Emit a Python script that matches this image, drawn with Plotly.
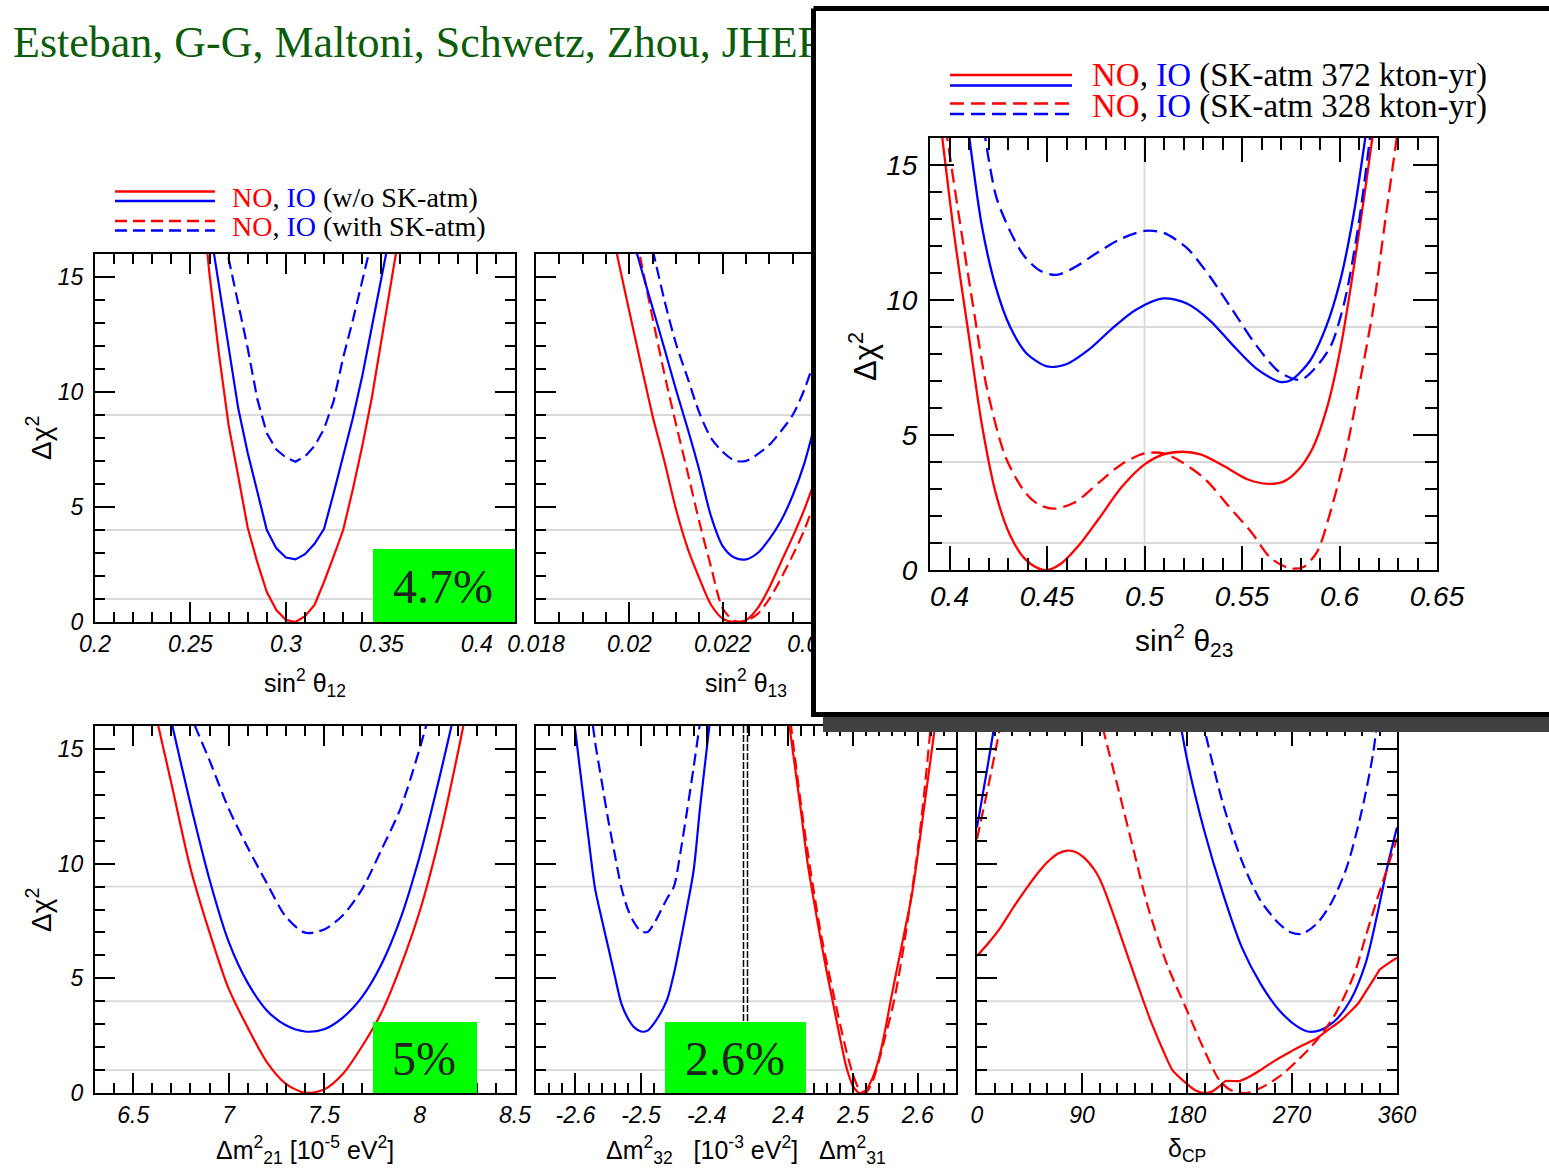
import plotly.graph_objects as go

W, H = 1549, 1170
RED, BLUE = "#ff0000", "#0000ff"
SERIF, SANS = "Liberation Serif", "Liberation Sans"
GRID = "#d9d9d9"
CHI_RANGE = [0, 16]
CL_LEVELS = [1, 4, 9]

# ---------------- sin^2(theta12) ----------------
s12 = [0.255, 0.260, 0.265, 0.270, 0.275, 0.280, 0.285, 0.290, 0.295, 0.300, 0.305,
       0.310, 0.315, 0.320, 0.325, 0.330, 0.335, 0.340, 0.345, 0.350, 0.355, 0.360]
chi_s12_no = [19.3, 15.1, 11.6, 8.55, 6.35, 4.1, 2.6, 1.3, 0.52, 0.09, 0.0,
              0.25, 0.74, 1.75, 2.85, 4.0, 5.75, 7.65, 9.75, 12.2, 14.6, 17.2]
chi_s12_io = [19.9, 17.3, 14.7, 11.95, 9.3, 7.35, 5.65, 4.0, 3.2, 2.8, 2.72,
              2.95, 3.4, 4.05, 5.6, 7.2, 8.85, 10.7, 12.8, 14.9, 17.0, 19.2]
chi_s12_io_sk = [22.0, 20.0, 18.0, 15.8, 13.8, 11.9, 9.7, 8.2, 7.5, 7.15, 6.97,
                 7.2, 7.65, 8.4, 9.6, 11.5, 13.1, 14.8, 16.5, 18.2, 20.0, 21.8]

# ---------------- sin^2(theta13) ----------------
s13 = [0.0195, 0.01975, 0.0200, 0.02025, 0.0205, 0.02075, 0.0210, 0.02125, 0.0215, 0.02175,
       0.0220, 0.02225, 0.0225, 0.02275, 0.0230, 0.02325, 0.0235, 0.02375, 0.0240, 0.02425]
chi_s13_no = [18.2, 15.85, 13.5, 11.2, 8.95, 7.0, 4.9, 3.2, 1.9, 0.75,
              0.15, 0.0, 0.08, 0.6, 1.5, 2.6, 3.7, 4.9, 6.3, 7.9]
s13_b = s13[2:]
chi_s13_no_sk = [18.2, 15.7, 13.2, 10.8, 8.6, 6.5, 4.35, 2.4,
                 0.6, 0.05, 0.05, 0.35, 1.0, 1.9, 2.9, 4.0, 5.4, 6.9]
chi_s13_io = [17.2, 15.4, 13.65, 11.9, 10.1, 8.4, 6.6, 4.6,
              3.3, 2.8, 2.72, 3.0, 3.6, 4.4, 5.5, 6.9, 8.8, 11.0]
s13_c = s13[4:]
chi_s13_io_sk = [16.2, 14.0, 12.1, 10.6, 9.1, 8.0,
                 7.4, 7.02, 7.0, 7.3, 7.7, 8.3, 9.0, 10.1, 11.6, 13.4]

# ---------------- Delta m^2_21 ----------------
dm21 = [6.5, 6.6, 6.7, 6.8, 6.9, 7.0, 7.1, 7.2, 7.3, 7.4, 7.5,
        7.6, 7.7, 7.8, 7.9, 8.0, 8.1, 8.2, 8.3]
chi_dm21_no = [21.5, 17.2, 13.5, 9.8, 7.0, 4.55, 2.85, 1.35, 0.4, 0.01, 0.15,
               0.85, 2.05, 3.5, 5.5, 7.9, 11.0, 14.8, 19.0]
dm21_io = dm21[1:18]
chi_dm21_io = [19.9, 16.2, 12.6, 9.3, 6.6, 4.8, 3.6, 2.95, 2.68, 2.78,
               3.3, 4.2, 5.6, 7.6, 10.3, 13.6, 17.2]
dm21_io_sk = dm21[2:17]
chi_dm21_io_sk = [19.0, 16.5, 14.5, 12.4, 10.7, 9.15, 7.68, 6.99, 7.13,
                  7.76, 8.9, 10.6, 12.4, 15.0, 18.0]

# ---------------- Delta m^2_32 (IO) ----------------
dm32 = [-2.61, -2.60, -2.59, -2.58, -2.57, -2.56, -2.55, -2.54, -2.53, -2.52, -2.51, -2.50,
        -2.49, -2.48, -2.47, -2.46, -2.45, -2.44, -2.43, -2.42, -2.41, -2.40, -2.39]
chi_dm32_io = [18.1, 15.75, 13.4, 11.1, 8.9, 7.6, 6.35, 5.1, 3.9, 3.25, 2.85, 2.68,
               2.72, 3.05, 3.5, 4.1, 5.2, 6.6, 8.1, 9.7, 12.5, 15.0, 17.5]
dm32_sk = dm32[3:22]
chi_dm32_io_sk = [17.6, 15.3, 13.6, 11.9, 10.4, 8.95, 8.0, 7.4, 7.05,
                  7.02, 7.4, 7.95, 8.5, 9.0, 10.5, 12.3, 14.2, 16.2, 18.2]

# ---------------- Delta m^2_31 (NO) ----------------
dm31 = [2.39, 2.40, 2.41, 2.42, 2.43, 2.44, 2.45, 2.46, 2.47, 2.48, 2.49, 2.50, 2.51,
        2.52, 2.53, 2.54, 2.55, 2.56, 2.57, 2.58, 2.59, 2.60, 2.61, 2.62, 2.63]
chi_dm31_no = [18.8, 16.4, 14.3, 12.2, 10.0, 8.3, 6.7, 5.2, 3.8, 2.4, 1.1, 0.3, 0.0,
               0.12, 0.65, 1.5, 2.8, 4.3, 5.7, 7.1, 8.5, 10.4, 12.5, 14.6, 16.7]
chi_dm31_no_sk = [19.3, 17.0, 14.7, 12.5, 10.5, 8.7, 7.0, 5.6, 4.3, 3.0, 1.8, 0.8, 0.15,
                  0.03, 0.5, 1.4, 2.5, 3.6, 5.0, 6.7, 8.6, 10.6, 13.1, 16.0, 19.0]

# ---------------- delta_CP ----------------
dcp_no = [0, 10, 20, 30, 40, 50, 60, 70, 77.5, 85, 92, 100, 105, 110, 115, 120, 130, 142.7,
          150, 160, 167.5, 178.7, 187, 195, 202, 208, 213, 225, 235, 243, 255, 268.7, 280,
          291, 300, 310.5, 320, 326.6, 333, 339.4, 343, 345.2, 352.3, 360]
chi_dcp_no = [5.97, 6.55, 7.2, 8.0, 8.75, 9.45, 10.05, 10.45, 10.57, 10.5, 10.25, 9.78, 9.35,
              8.75, 8.05, 7.33, 5.85, 4.0, 3.0, 1.8, 1.0, 0.45, 0.12, 0.0, 0.08, 0.3, 0.52,
              0.52, 0.75, 1.0, 1.4, 1.8, 2.1, 2.38, 2.72, 3.1, 3.55, 3.9, 4.4, 4.91, 5.2,
              5.38, 5.64, 5.9]
dcp_no_sk = [0, 10, 19.6, 22, None, 105, 108, 120.9, 133.7, 146.6, 162.6, 178.7, 194.8, 207.6,
             217.3, 230.1, 243, 259, 275, 291.2, 307.3, 323.4, 333, 342.6, 352.3, 360]
chi_dcp_no_sk = [11.07, 13.46, 15.9, 16.6, None, 16.7, 15.9, 13.3, 10.7, 8.1, 5.64, 3.75, 1.87,
                 0.57, 0.13, 0.0, 0.22, 0.71, 1.43, 2.3, 3.46, 5.2, 6.8, 8.39, 9.9, 11.1]
dcp_io = [0, 8.4, 14.8, 17, None, 172, 180.3, 194.8, 210.9, 226.9, 243, 259, 275, 284.8,
          294.4, 307.3, 320.1, 333, 342.6, 352.3, 360]
chi_dcp_io = [11.58, 14.04, 16.0, 16.8, None, 16.8, 14.48, 11.43, 8.68, 6.36, 4.77, 3.61,
              2.88, 2.67, 2.74, 3.17, 4.04, 5.64, 7.67, 9.99, 11.58]
dcp_io_sk = [190, 194.8, 210.9, 226.9, 243, 259, 268.7, 278.4, 291.2, 304, 316.9, 329.8,
             339.4, 344]
chi_dcp_io_sk = [17.1, 15.9, 12.6, 10.13, 8.39, 7.38, 7.01, 6.94, 7.38, 8.32, 9.84, 12.3,
                 14.77, 16.6]

# ---------------- sin^2(theta23), two SK-atm exposures ----------------
s23_no_372 = [0.3950, 0.4024, 0.4095, 0.4167, 0.4239, 0.4310, 0.4382, 0.4453, 0.4501, 0.4573,
              0.4668, 0.4763, 0.4883, 0.5002, 0.5097, 0.5193, 0.5288, 0.5407, 0.5527, 0.5634,
              0.5718, 0.5789, 0.5861, 0.5932, 0.6004, 0.6075, 0.6135, 0.6180]
chi_s23_no_372 = [16.8, 12.42, 8.88, 5.34, 2.79, 1.30, 0.45, 0.07, 0.0, 0.24,
                  0.95, 1.87, 3.07, 3.92, 4.28, 4.38, 4.28, 3.85, 3.36, 3.19,
                  3.29, 3.71, 4.49, 5.91, 8.17, 11.29, 14.26, 16.6]
s23_no_328 = [0.3980, 0.4048, 0.4119, 0.4191, 0.4286, 0.4382, 0.4453, 0.4537, 0.4644, 0.4763,
              0.4883, 0.5002, 0.5097, 0.5193, 0.5312, 0.5431, 0.5551, 0.5646, 0.5741, 0.5813,
              0.5885, 0.5956, 0.6028, 0.6099, 0.6171, 0.6230, 0.6305]
chi_s23_no_328 = [16.4, 13.13, 9.87, 6.76, 4.21, 2.93, 2.44, 2.27, 2.51, 3.22,
                  3.92, 4.32, 4.32, 3.99, 3.36, 2.37, 1.37, 0.45, 0.07, 0.10,
                  0.67, 2.22, 4.21, 6.76, 9.59, 12.7, 16.6]
s23_io_372 = [0.4095, 0.4167, 0.4239, 0.4310, 0.4394, 0.4501, 0.4596, 0.4716, 0.4835, 0.4954,
              0.5097, 0.5217, 0.5336, 0.5455, 0.5574, 0.5694, 0.5753, 0.5849, 0.5932, 0.6004,
              0.6075, 0.6140]
chi_s23_io_372 = [16.4, 12.7, 10.44, 9.02, 8.03, 7.54, 7.61, 8.17, 8.95, 9.63,
                  10.06, 9.87, 9.24, 8.31, 7.46, 6.97, 7.04, 7.75, 9.02, 10.72,
                  13.27, 16.4]
s23_io_328 = [0.4175, 0.4239, 0.4310, 0.4382, 0.4465, 0.4549, 0.4644, 0.4763, 0.4883, 0.5002,
              0.5097, 0.5217, 0.5336, 0.5455, 0.5574, 0.5694, 0.5801, 0.5873, 0.5956, 0.6028,
              0.6099, 0.6163]
chi_s23_io_328 = [16.4, 13.84, 12.56, 11.64, 11.08, 10.93, 11.22, 11.78, 12.28, 12.56,
                  12.49, 11.93, 10.86, 9.59, 8.31, 7.32, 7.04, 7.46, 8.31, 10.01,
                  12.85, 16.4]

# ---------------- text ----------------
CITATION = "Esteban, G-G, Maltoni, Schwetz, Zhou, JHEP"
MAIN_LEGEND = ["(w/o SK-atm)", "(with SK-atm)"]
INSET_LEGEND = ["(SK-atm 372 kton-yr)", "(SK-atm 328 kton-yr)"]
BOX_LABELS = ["4.7%", "5%", "2.6%"]


def fx(px):
    return px / W


def fy(py):
    return 1 - py / H


def frame_axis(font_size, major_len, minor_len, minor_dtick, standoff, **extra):
    cfg = dict(
        showline=True, linecolor="black", linewidth=2, automargin=False,
        mirror="ticks", ticks="inside", ticklen=major_len, tickwidth=2, tickcolor="black",
        showgrid=False, zeroline=False,
        tickfont=dict(family=SANS, size=font_size, color="black", style="italic"),
        ticklabelstandoff=standoff,
        minor=dict(ticks="inside", ticklen=minor_len, tickwidth=1.5, tickcolor="black",
                   tick0=0, dtick=minor_dtick, showgrid=False),
    )
    cfg.update(extra)
    return cfg


fig = go.Figure()
layout = dict(width=W, height=H, autosize=False,
              margin=dict(l=0, r=0, t=0, b=0, pad=0, autoexpand=False),
              paper_bgcolor="white", plot_bgcolor="rgba(0,0,0,0)", showlegend=False)

# full-page helper canvases (pixel coordinates): "" for text under the inset, 8 for the inset card
for n in ["", "8"]:
    hidden = dict(domain=[0, 1], visible=False, fixedrange=True, automargin=False,
                  showticklabels=False, ticks="", showgrid=False, zeroline=False, showline=False)
    layout[f"xaxis{n}"] = dict(hidden, range=[0, W], anchor=f"y{n}")
    layout[f"yaxis{n}"] = dict(hidden, range=[H, 0], anchor=f"x{n}")

fig.add_trace(go.Scatter(x=[13], y=[46], mode="text", text=[CITATION], textposition="middle right",
                         textfont=dict(family=SERIF, size=44, color="#0b5d0b"),
                         xaxis="x", yaxis="y", hoverinfo="skip"))

# main panels: (id, pixel box l, r, t, b, x range)
MAIN = [
    ("2", (95, 515, 254, 622), [0.2, 0.42]),
    ("3", (536, 956, 254, 622), [0.018, 0.027]),
    ("4", (95, 515, 726, 1093), [6.3, 8.5]),
    ("5", (536, 745.5, 726, 1093), [-2.66, -2.341]),
    ("6", (745.5, 956, 726, 1093), [2.334, 2.659]),
    ("7", (977, 1397, 726, 1093), [0, 360]),
]
XRANGE = {n: xr for n, _, xr in MAIN}
XTICKS = {
    "2": dict(tick0=0, dtick=0.05, minor_dtick=0.01),
    "3": dict(tick0=0, dtick=0.002, minor_dtick=0.0005),
    "4": dict(tick0=0, dtick=0.5, minor_dtick=0.1),
    "5": dict(tickmode="array", tickvals=[-2.6, -2.5, -2.4], ticktext=["-2.6", "-2.5", "-2.4"],
              minor_dtick=0.02),
    "6": dict(tick0=0, dtick=0.1, minor_dtick=0.02),
    "7": dict(tick0=0, dtick=90, minor_dtick=15),
}
for n, (l, r, t, b), xr in MAIN:
    xt = dict(XTICKS[n])
    mdt = xt.pop("minor_dtick")
    layout[f"xaxis{n}"] = frame_axis(23, 20, 10, mdt, 0, domain=[fx(l), fx(r)], range=xr,
                                     anchor=f"y{n}", **xt)
    ycfg = frame_axis(23, 20, 10, 1, 5, domain=[fy(b), fy(t)], range=CHI_RANGE, anchor=f"x{n}",
                      tick0=0, dtick=5, showticklabels=n in ("2", "4"))
    if n == "5":
        ycfg["mirror"] = False
    if n == "6":
        ycfg.update(mirror=False, side="right")
    layout[f"yaxis{n}"] = ycfg

# inset panel
IL, IR, IT, IB = 930, 1437, 138, 570
XRANGE["9"] = [0.39, 0.65]
layout["xaxis9"] = frame_axis(28, 24, 12, 0.01, 0, domain=[fx(IL), fx(IR)], range=XRANGE["9"],
                              anchor="y9", tick0=0, dtick=0.05)
layout["yaxis9"] = frame_axis(28, 24, 12, 1, 5, domain=[fy(IB), fy(IT)], range=CHI_RANGE,
                              anchor="x9", tick0=0, dtick=5)


def curve(x, y, color, n, dash=None, width=2.2, shape="spline", smoothing=0.8):
    fig.add_trace(go.Scatter(
        x=x, y=y, mode="lines", xaxis=f"x{n}", yaxis=f"y{n}", hoverinfo="skip",
        line=dict(color=color, width=width, dash=dash, shape=shape, smoothing=smoothing),
        connectgaps=False))


def reference_lines(n, vertical=None):
    """Light grey Delta-chi^2 = 1, 4, 9 levels (and an optional vertical guide)."""
    for lev in CL_LEVELS:
        curve(XRANGE[n], [lev, lev], GRID, n, width=1.8, shape="linear")
    if vertical is not None:
        curve([vertical, vertical], CHI_RANGE, GRID, n, width=1.8, shape="linear")


MDASH = "12px,6px"
IDASH = "14px,7px"

reference_lines("2")
curve(s12, chi_s12_no, RED, "2", shape="linear")
curve(s12, chi_s12_io, BLUE, "2", shape="linear")
curve(s12, chi_s12_io_sk, BLUE, "2", MDASH, shape="linear")

reference_lines("3")
curve(s13, chi_s13_no, RED, "3")
curve(s13_b, chi_s13_no_sk, RED, "3", MDASH)
curve(s13_b, chi_s13_io, BLUE, "3")
curve(s13_c, chi_s13_io_sk, BLUE, "3", MDASH)

reference_lines("4")
curve(dm21, chi_dm21_no, RED, "4")
curve(dm21_io, chi_dm21_io, BLUE, "4")
curve(dm21_io_sk, chi_dm21_io_sk, BLUE, "4", MDASH)

reference_lines("5")
curve(dm32, chi_dm32_io, BLUE, "5")
curve(dm32_sk, chi_dm32_io_sk, BLUE, "5", MDASH)

reference_lines("6")
curve(dm31, chi_dm31_no, RED, "6")
curve(dm31, chi_dm31_no_sk, RED, "6", MDASH)

reference_lines("7", vertical=180)
curve(dcp_io, chi_dcp_io, BLUE, "7")
curve(dcp_io_sk, chi_dcp_io_sk, BLUE, "7", MDASH)
curve(dcp_no_sk, chi_dcp_no_sk, RED, "7", MDASH)
curve(dcp_no, chi_dcp_no, RED, "7", smoothing=0.6)

# inset card: drop shadow and white panel with a thick black border (pixel coordinates)
SHADOW = (823, 20, 1600, 732)
CARD = (813.5, 8.5, 1600, 714.5)
for (x0, y0, x1, y1), fill, lw in [(SHADOW, "#404040", 0), (CARD, "white", 5)]:
    fig.add_trace(go.Scatter(x=[x0, x1, x1, x0, x0], y=[y0, y0, y1, y1, y0], mode="lines",
                             fill="toself", fillcolor=fill,
                             line=dict(color="black", width=lw) if lw else dict(width=0),
                             xaxis="x8", yaxis="y8", hoverinfo="skip"))

reference_lines("9", vertical=0.5)
curve(s23_no_372, chi_s23_no_372, RED, "9", width=2.3)
curve(s23_io_372, chi_s23_io_372, BLUE, "9", width=2.3)
curve(s23_no_328, chi_s23_no_328, RED, "9", IDASH, width=2.3)
curve(s23_io_328, chi_s23_io_328, BLUE, "9", IDASH, width=2.3)

shapes = []
# axis break between the Delta m^2_32 and Delta m^2_31 halves
for bx in (743.5, 747.5):
    shapes.append(dict(type="line", layer="above", xref="paper", yref="paper",
                       x0=fx(bx), x1=fx(bx), y0=fy(1093), y1=fy(726),
                       line=dict(color="black", width=1.5, dash="7px,2px")))

# green highlight boxes
BOXES = [(373, 515, 549, 622), (373, 477, 1022, 1093), (665, 806, 1022, 1093)]
for (l, r, t, b) in BOXES:
    shapes.append(dict(type="rect", layer="above", xref="paper", yref="paper",
                       x0=fx(l), x1=fx(r), y0=fy(b), y1=fy(t),
                       fillcolor="#00ff00", line=dict(width=0)))

# legend line samples
LEG_MAIN = [(115, 215, 191.5, RED, None), (115, 215, 201, BLUE, None),
            (115, 215, 221, RED, MDASH), (115, 215, 230.5, BLUE, MDASH)]
LEG_INSET = [(950, 1072, 75, RED, None), (950, 1072, 85.5, BLUE, None),
             (950, 1072, 103.5, RED, IDASH), (950, 1072, 114, BLUE, IDASH)]
for (x0, x1, yy, col, dash) in LEG_MAIN + LEG_INSET:
    shapes.append(dict(type="line", layer="above", xref="paper", yref="paper",
                       x0=fx(x0), x1=fx(x1), y0=fy(yy), y1=fy(yy),
                       line=dict(color=col, width=2.3, dash=dash)))

layout["shapes"] = shapes

ann = []


def text(x, y, s, size, family=SANS, color="black", xanchor="center", yanchor="middle", angle=0):
    ann.append(dict(x=fx(x), y=fy(y), xref="paper", yref="paper", text=s, showarrow=False,
                    xanchor=xanchor, yanchor=yanchor, textangle=angle,
                    font=dict(family=family, size=size, color=color)))


NO_IO = f'<span style="color:{RED}">NO</span>, <span style="color:{BLUE}">IO</span> '
text(230, 197.5, NO_IO + MAIN_LEGEND[0], 28, SERIF, xanchor="left")
text(230, 226.5, NO_IO + MAIN_LEGEND[1], 28, SERIF, xanchor="left")
text(1090, 76, NO_IO + INSET_LEGEND[0], 33, SERIF, xanchor="left")
text(1090, 106, NO_IO + INSET_LEGEND[1], 33, SERIF, xanchor="left")

for (l, r, t, b), lab, cx in zip(BOXES, BOX_LABELS, [443, 424, 735]):
    text(cx, (t + b) / 2 + 1, lab, 48, SERIF, color="#222222")

CHI = "Δχ<sup>2</sup>"
text(39, 438, CHI, 28, angle=-90)
text(39, 910, CHI, 28, angle=-90)
text(863, 356, CHI, 31, angle=-90)

text(305, 683, "sin<sup>2</sup> θ<sub>12</sub>", 25)
text(746, 683, "sin<sup>2</sup> θ<sub>13</sub>", 25)
text(305, 1150, "Δm<sup>2</sup><sub>21</sub> [10<sup>-5</sup> eV<sup>2</sup>]", 25)
text(746, 1150, "Δm<sup>2</sup><sub>32</sub>   [10<sup>-3</sup> eV<sup>2</sup>]   Δm<sup>2</sup><sub>31</sub>", 25)
text(1187, 1150, "δ<sub>CP</sub>", 25)
text(1184, 640, "sin<sup>2</sup> θ<sub>23</sub>", 30)

layout["annotations"] = ann
fig.update_layout(**layout)
fig.write_html("out.html")
